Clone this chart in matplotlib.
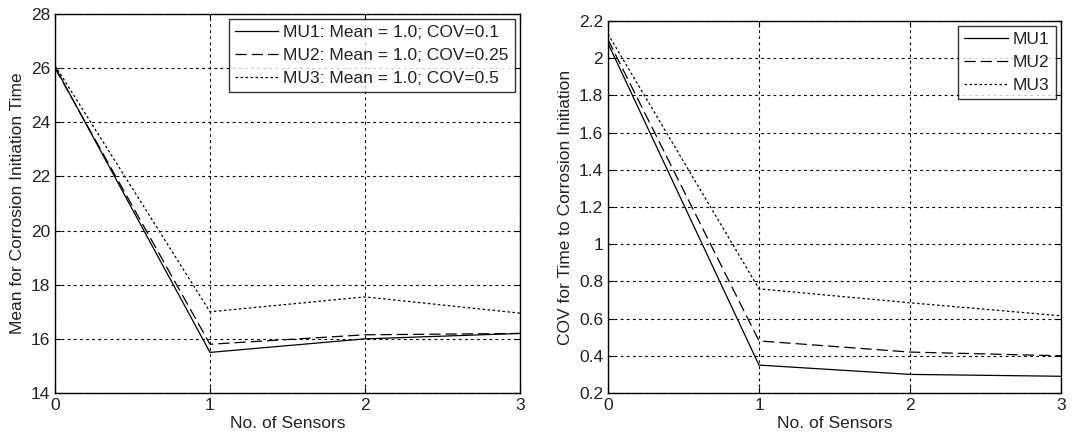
import matplotlib
matplotlib.use("Agg")
import matplotlib.pyplot as plt

plt.rcParams['font.family'] = ['Liberation Sans', 'DejaVu Sans']

sensors = [0, 1, 2, 3]

mean_mu1 = [26.05, 15.5, 16.0, 16.2]
mean_mu2 = [26.0, 15.8, 16.15, 16.2]
mean_mu3 = [26.1, 17.0, 17.55, 16.95]

cov_mu1 = [2.08, 0.35, 0.30, 0.29]
cov_mu2 = [2.10, 0.48, 0.42, 0.40]
cov_mu3 = [2.13, 0.76, 0.685, 0.615]

left_labels = ["MU1: Mean = 1.0; COV=0.1",
               "MU2: Mean = 1.0; COV=0.25",
               "MU3: Mean = 1.0; COV=0.5"]
right_labels = ["MU1", "MU2", "MU3"]

left_yticks = [14, 16, 18, 20, 22, 24, 26, 28]
right_yticks = [0.2, 0.4, 0.6, 0.8, 1, 1.2, 1.4, 1.6, 1.8, 2, 2.2]
right_yticklabels = ["0.2", "0.4", "0.6", "0.8", "1", "1.2", "1.4", "1.6", "1.8", "2", "2.2"]

fig = plt.figure(figsize=(10.82, 4.41), dpi=100)
W, H = 1082, 441
axL = fig.add_axes([55 / W, 1 - 393 / H, (520 - 55) / W, (393 - 14) / H])
axR = fig.add_axes([608 / W, 1 - 393 / H, (1061 - 608) / W, (393 - 21) / H])

styles = [dict(linestyle='-'), dict(linestyle=(0, (9, 4))), dict(linestyle=(0, (2, 2)))]
FS = 12.5

def style_axes(ax):
    ax.set_xlim(0, 3)
    ax.set_xticks([0, 1, 2, 3])
    ax.grid(True, color='black', linestyle=(0, (2.5, 3)), linewidth=0.8)
    ax.tick_params(direction='in', top=True, right=True, labelsize=FS, length=4,
                   color='black', labelcolor='#222222')
    for s in ax.spines.values():
        s.set_color('black')
        s.set_linewidth(1.0)

def add_legend(ax):
    leg = ax.legend(loc='upper right', fontsize=FS, frameon=True, fancybox=False,
                    edgecolor='black', handlelength=2.5, borderaxespad=0.3,
                    labelspacing=0.45, handletextpad=0.3, borderpad=0.35)
    leg.get_frame().set_linewidth(1.0)
    for t in leg.get_texts():
        t.set_color('#222222')

for data, lab, st in zip([mean_mu1, mean_mu2, mean_mu3], left_labels, styles):
    axL.plot(sensors, data, color='black', linewidth=0.9, label=lab, **st)
style_axes(axL)
axL.set_ylim(14, 28)
axL.set_yticks(left_yticks)
axL.set_xlabel("No. of Sensors", fontsize=FS, color='#222222', labelpad=2)
axL.set_ylabel("Mean for Corrosion Initiation Time", fontsize=FS, color='#222222', labelpad=4)
add_legend(axL)

for data, lab, st in zip([cov_mu1, cov_mu2, cov_mu3], right_labels, styles):
    axR.plot(sensors, data, color='black', linewidth=0.9, label=lab, **st)
style_axes(axR)
axR.set_ylim(0.2, 2.2)
axR.set_yticks(right_yticks)
axR.set_yticklabels(right_yticklabels)
axR.set_xlabel("No. of Sensors", fontsize=FS, color='#222222', labelpad=2)
axR.set_ylabel("COV for Time to Corrosion Initiation", fontsize=FS, color='#222222', labelpad=4)
add_legend(axR)

fig.savefig("out.png", dpi=100)
